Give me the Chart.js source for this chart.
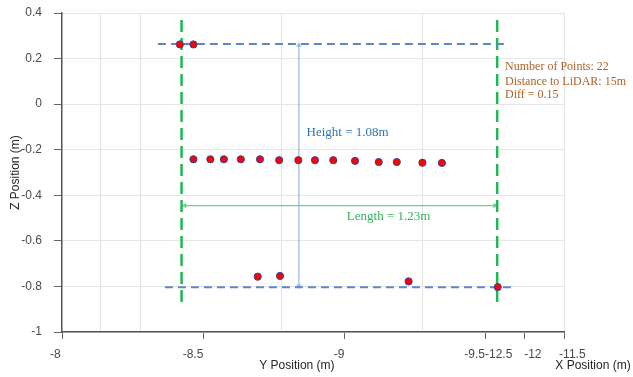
<!DOCTYPE html>
<html>
<head>
<meta charset="utf-8">
<script src="https://cdn.jsdelivr.net/npm/chart.js@4"></script>
<style>
  html, body { margin: 0; padding: 0; background: #fff; }
  #wrap { width: 633px; height: 377px; position: relative; }
</style>
</head>
<body>
<div id="wrap"><canvas id="chart"></canvas></div>
<script>
// Axis ticks
const yPosTicks = [-8, -8.5, -9, -9.5];
const xPosTicks = [-12.5, -12, -11.5];
const zTicks = [0.4, 0.2, 0, -0.2, -0.4, -0.6, -0.8, -1];
// back wall grid lines (Y position units)
const wallGrid = [-8.138, -8.277, -8.78, -9.28, -9.78];

// measured points
const topY = [-8.418, -8.466];
const topZ = [0.262, 0.262];
const midY = [-8.466, -8.526, -8.574, -8.634, -8.702, -8.770, -8.838, -8.897, -8.962, -9.039, -9.123, -9.187, -9.278, -9.347];
const midZ = [-0.242, -0.242, -0.242, -0.242, -0.242, -0.246, -0.246, -0.246, -0.246, -0.249, -0.254, -0.254, -0.257, -0.258];
const lowY = [-8.694, -8.773, -9.229, -9.545];
const lowZ = [-0.757, -0.754, -0.778, -0.803];

// reference lines
const topLineY = [-8.34, -9.578], topLineZ = [0.264, 0.264];
const lowLineY = [-8.365, -9.599], lowLineZ = [-0.804, -0.804];
const leftEdgeY = [-8.424, -8.424], rightEdgeY = [-9.543, -9.543], edgeZ = [0.369, -0.87];
const lengthY = [-8.435, -9.535], lengthZ = [-0.445, -0.445];
const heightY = [-8.84, -8.84], heightZ = [0.258, -0.798];

// X position axis shares the horizontal axis after -9.5 (projection of the 3D box)
const xToAxis = x => -9.5 - (x + 12.5) * 0.28;

// labels sit a little off their ticks in the 3D view (nudged with spaces)
const axisLabels = {};
const yNudge = ['    ', '      ', '   ', ''];
yPosTicks.forEach((v, i) => { axisLabels[v.toFixed(3)] = String(v) + yNudge[i]; });
const xNudge = ['  ', '     ', '     '];
xPosTicks.forEach((v, i) => {
    const k = xToAxis(v).toFixed(3);
    axisLabels[k] = axisLabels[k] ? xNudge[i] + axisLabels[k] + String(v) : xNudge[i] + String(v);
});

const zip = (a, b) => a.map((v, i) => ({ x: v, y: b[i] }));

const dots = (data) => ({
    data: data,
    showLine: false,
    pointRadius: 3.6,
    pointBackgroundColor: '#ff0000',
    pointBorderColor: '#2d4a9a',
    pointBorderWidth: 1,
    order: 0
});

const line = (data, color, width, dash) => ({
    data: data,
    showLine: true,
    borderColor: color,
    borderWidth: width,
    borderDash: dash,
    pointRadius: 0,
    order: 2
});

const arrow = (data, color, rots) => ({
    data: data,
    showLine: true,
    borderColor: color,
    borderWidth: 1.2,
    pointStyle: 'triangle',
    pointRadius: 3,
    pointRotation: rots,
    pointBackgroundColor: color,
    pointBorderColor: color,
    pointBorderWidth: 0,
    order: 3
});

// annotation texts (data coordinates)
const notes = [
    { text: 'Height = 1.08m', y: -8.867, z: -0.126, color: '#2e75b6', size: 13 },
    { text: 'Length = 1.23m', y: -9.010, z: -0.493, color: '#33b35a', size: 13 },
    { text: 'Number of Points: 22', y: -9.571, z: 0.165, color: '#b0622a', size: 12 },
    { text: 'Distance to LiDAR: 15m', y: -9.571, z: 0.099, color: '#b0622a', size: 12 },
    { text: 'Diff = 0.15', y: -9.571, z: 0.040, color: '#b0622a', size: 12 }
];

const textPlugin = {
    id: 'texts',
    afterDatasetsDraw(chart) {
        const ctx = chart.ctx;
        const xs = chart.scales.x, ys = chart.scales.y;
        ctx.save();
        ctx.textBaseline = 'middle';
        ctx.textAlign = 'left';
        notes.forEach(n => {
            ctx.font = n.size + 'px "Liberation Serif", "Times New Roman", serif';
            ctx.fillStyle = n.color;
            ctx.fillText(n.text, xs.getPixelForValue(n.y), ys.getPixelForValue(n.z));
        });
        // axis titles
        ctx.font = '12px "Liberation Sans", Arial, sans-serif';
        ctx.fillStyle = '#262626';
        ctx.textAlign = 'center';
        ctx.fillText('Y Position (m)', xs.getPixelForValue(-8.833), xs.bottom - 11);
        ctx.fillText('X Position (m)', xs.getPixelForValue(xToAxis(-11.5)) + 29, xs.bottom - 11);
        ctx.restore();
    }
};

new Chart(document.getElementById('chart'), {
    type: 'scatter',
    data: {
        datasets: [
            dots(zip(topY, topZ)),
            dots(zip(midY, midZ)),
            dots(zip(lowY, lowZ)),
            line(zip(topLineY, topLineZ), '#5b86c8', 2, [8, 5]),
            line(zip(lowLineY, lowLineZ), '#5b86c8', 2, [8, 5]),
            line(zip(leftEdgeY, edgeZ), '#1fb856', 2.5, [12, 6]),
            line(zip(rightEdgeY, edgeZ), '#1fb856', 2.5, [12, 6]),
            arrow(zip(lengthY, lengthZ), '#6cce8c', [270, 90]),
            arrow(zip(heightY, heightZ), '#9db6de', [0, 180])
        ]
    },
    options: {
        responsive: true,
        maintainAspectRatio: false,
        animation: false,
        layout: { padding: { left: 0, top: 13, right: 69, bottom: 0 } },
        plugins: {
            legend: { display: false },
            tooltip: { enabled: false }
        },
        scales: {
            x: {
                type: 'linear',
                reverse: true,
                min: -9.78,
                max: -8,
                afterBuildTicks: s => {
                    s.ticks = Object.keys(axisLabels).map(k => ({ value: parseFloat(k) }));
                },
                afterFit: s => { s.height = 45; },
                ticks: {
                    autoSkip: false,
                    maxRotation: 0,
                    padding: 8,
                    color: '#4a4a4a',
                    font: { family: '"Liberation Sans", Arial, sans-serif', size: 12 },
                    callback: v => axisLabels[v.toFixed(3)]
                },
                grid: { drawOnChartArea: false, drawTicks: true, tickLength: 7, color: '#666' },
                border: { color: '#555', width: 1.5 }
            },
            xg: {
                type: 'linear',
                position: 'top',
                reverse: true,
                min: -9.78,
                max: -8,
                afterBuildTicks: s => { s.ticks = wallGrid.map(v => ({ value: v })); },
                afterFit: s => { s.height = 0; },
                ticks: { display: false },
                grid: { drawTicks: false, color: '#e2e2e2' },
                border: { display: false }
            },
            y: {
                type: 'linear',
                min: -1,
                max: 0.4,
                afterBuildTicks: s => { s.ticks = zTicks.map(v => ({ value: v })); },
                afterFit: s => { s.width = 62; s.paddingTop = 8; },
                ticks: {
                    padding: 12,
                    color: '#4a4a4a',
                    font: { family: '"Liberation Sans", Arial, sans-serif', size: 12 },
                    callback: v => String(Math.round(v * 10) / 10)
                },
                grid: { color: '#e6e6e6', tickColor: '#666', tickLength: 8 },
                border: { color: '#555', width: 1.5 },
                title: {
                    display: true,
                    text: 'Z Position (m)',
                    color: '#262626',
                    padding: { top: 8, bottom: 0 },
                    font: { family: '"Liberation Sans", Arial, sans-serif', size: 12 }
                }
            }
        }
    },
    plugins: [textPlugin]
});
</script>
</body>
</html>
